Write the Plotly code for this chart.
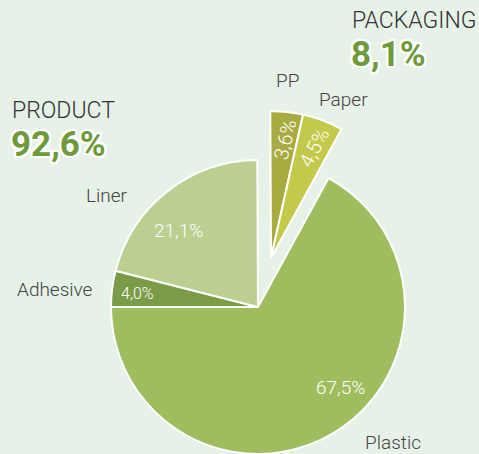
import plotly.graph_objects as go

# ---- data ----
labels = ["Adhesive", "Liner", "PP", "Paper", "Plastic"]
values = [4.0, 21.1, 3.6, 4.5, 67.5]
colors = ["#7a9b48", "#bbd090", "#a8ab3f", "#c3c94a", "#9fbd5e"]
exploded = [False, False, True, True, False]
group_names = ["PRODUCT", "PACKAGING"]
group_values = [92.6, 8.1]

W, H = 479, 454
BG = "#e6f1e7"
TRANSPARENT = "rgba(0,0,0,0)"


def fmt(v):
    return f"{v:.1f}".replace(".", ",") + "%"


def domain(cx, cy, r):
    return dict(x=[(cx - r) / W, (cx + r) / W], y=[1 - (cy + r) / H, 1 - (cy - r) / H])


R = 147
main_colors = [TRANSPARENT if e else c for c, e in zip(colors, exploded)]
main_lw = [0 if e else 2 for e in exploded]
exp_colors = [c if e else TRANSPARENT for c, e in zip(colors, exploded)]
exp_lw = [2 if e else 0 for e in exploded]

fig = go.Figure()
fig.add_trace(go.Pie(
    labels=labels, values=values, sort=False, direction="clockwise",
    rotation=270, marker=dict(colors=main_colors, line=dict(color="white", width=main_lw)),
    textinfo="none", hoverinfo="label+value", domain=domain(258, 307, R), showlegend=False,
))
fig.add_trace(go.Pie(
    labels=labels, values=values, sort=False, direction="clockwise",
    rotation=270, marker=dict(colors=exp_colors, line=dict(color="white", width=exp_lw)),
    textinfo="none", hoverinfo="label+value", domain=domain(271, 258, R), showlegend=False,
))

FAM = "Roboto, 'Open Sans', sans-serif"
LBL = dict(family=FAM, size=19, color="#444444", weight=300)
PCT = dict(family=FAM, size=18, color="white", weight=300)
outline = ", ".join(f"{dx}px {dy}px 0 white" for dx in (-2, 0, 2) for dy in (-2, 0, 2) if dx or dy)
BIG = dict(family=FAM, size=35, color="#6e9a3c", weight=700, shadow=outline)
HEAD = dict(family=FAM, size=23, color="#333333", weight=300)


def ann(text, x, y, font, xanchor="center", angle=0):
    fig.add_annotation(text=text, x=x / W, y=1 - y / H, xref="paper", yref="paper",
                       xanchor=xanchor, yanchor="middle", showarrow=False, font=font,
                       textangle=angle, borderpad=0)


# names
name_pos = {"Plastic": (393, 442), "Paper": (343, 99), "PP": (287, 81),
            "Liner": (107, 195), "Adhesive": (55, 289)}
for lab in labels:
    ann(lab, *name_pos[lab], LBL)

# percentages
pct_pos = {"Plastic": (340, 387, 0, 19), "Paper": (314, 148, -62, 20), "PP": (285, 140, -77, 20),
           "Liner": (178, 230, 0, 19), "Adhesive": (137, 293, 0, 16)}
for lab, v in zip(labels, values):
    x, y, a, s = pct_pos[lab]
    ann(fmt(v), x, y, dict(PCT, size=s), angle=a)

# group headers
ann(group_names[0], 11, 110, HEAD, xanchor="left")
ann(fmt(group_values[0]), 10, 145, BIG, xanchor="left")
ann(group_names[1], 351, 20, HEAD, xanchor="left")
ann(fmt(group_values[1]), 350, 54, BIG, xanchor="left")

fig.update_layout(width=W, height=H, margin=dict(l=0, r=0, t=0, b=0),
                  paper_bgcolor=BG, plot_bgcolor=BG)
fig.write_html("out.html", config={"displayModeBar": False},
               post_script="document.body.style.margin='0';")
